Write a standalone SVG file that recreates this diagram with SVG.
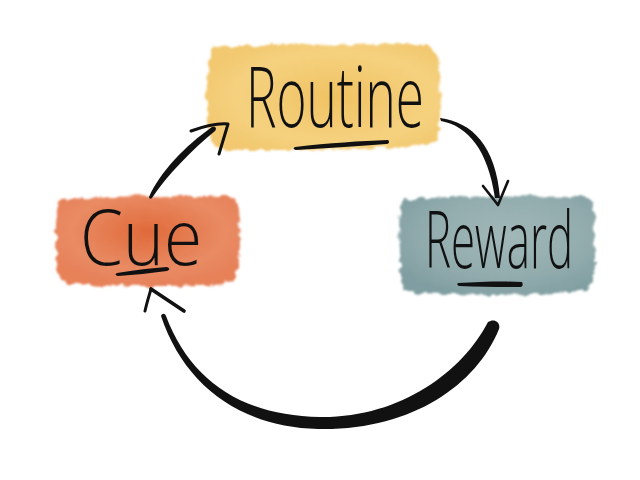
<svg xmlns="http://www.w3.org/2000/svg" width="640" height="480" viewBox="0 0 640 480">
<defs>
<filter id="rough" x="-10%" y="-15%" width="120%" height="130%">
<feTurbulence type="fractalNoise" baseFrequency="0.12" numOctaves="3" seed="4" result="n"/>
<feDisplacementMap in="SourceGraphic" in2="n" scale="7" xChannelSelector="R" yChannelSelector="G" result="d"/>
<feGaussianBlur in="d" stdDeviation="1"/>
</filter>
<radialGradient id="gY" cx="0.55" cy="0.5" r="0.6">
<stop offset="0" stop-color="#f1c262"/><stop offset="0.7" stop-color="#f5d17f"/><stop offset="1" stop-color="#f2c86f"/>
</radialGradient>
<radialGradient id="gO" cx="0.5" cy="0.4" r="0.6">
<stop offset="0" stop-color="#e06a3a"/><stop offset="0.7" stop-color="#e98b64"/><stop offset="1" stop-color="#e68159"/>
</radialGradient>
<radialGradient id="gB" cx="0.55" cy="0.4" r="0.65">
<stop offset="0" stop-color="#a2b8b9"/><stop offset="0.7" stop-color="#90aaac"/><stop offset="1" stop-color="#809ea1"/>
</radialGradient>
<style>
.lbl{font-family:"Open Sans","DejaVu Sans",sans-serif;font-weight:300;fill:#111}
.ln{fill:none;stroke:#111;stroke-linecap:round;stroke-linejoin:round}
.fl{fill:#111}
</style>
</defs>
<rect width="640" height="480" fill="#fff"/>
<g id="routine">
<path filter="url(#rough)" fill="url(#gY)" d="M212,48 C260,42 330,46 420,44 C436,46 440,60 440,80 C442,100 440,120 438,140 C420,150 340,150 230,150 C212,150 208,140 208,120 C206,100 206,70 212,48 Z"/>
<text class="lbl" x="246" y="127" font-size="84" textLength="178" lengthAdjust="spacingAndGlyphs">Routine</text>
<path class="fl" d="M295,147 C330,143 360,141 388,140 C390,142 389,144 386,144 C360,146 330,148 296,150 C293,149 293,148 295,147 Z"/>
</g>
<g id="cue">
<path filter="url(#rough)" fill="url(#gO)" d="M60,200 C100,196 180,195 230,196 C240,200 239,220 240,240 C240,260 238,275 232,282 C190,288 120,286 70,284 C58,282 56,270 56,250 C56,230 55,210 60,200 Z"/>
<text class="lbl" x="80" y="265" font-size="78" textLength="122" lengthAdjust="spacingAndGlyphs">Cue</text>
<path class="fl" d="M117,273 C135,270 152,268 167,267 C170,268 170,270 167,271 C150,273 135,275 118,276 C115,275 115,274 117,273 Z"/>
</g>
<g id="reward">
<path filter="url(#rough)" fill="url(#gB)" d="M404,200 C450,195 530,196 586,197 C596,200 594,220 594,240 C596,262 596,280 588,290 C540,296 460,296 410,292 C400,290 400,270 400,250 C399,230 398,210 404,200 Z"/>
<text class="lbl" transform="translate(425,268) scale(1,1.33)" x="0" y="0" font-size="60" textLength="148" lengthAdjust="spacingAndGlyphs">Reward</text>
<path class="fl" d="M458,283 C480,282 500,281 522,282 C523,284 523,286 521,287 C500,287 480,287 459,286 C457,285 457,284 458,283 Z"/>
</g>
<g id="connectors">
<path class="fl" d="M149,197 C160,172 185,146 212,127 C216,126 217,129 215,131 C192,150 168,174 152,198 C151,199 149,199 149,197 Z"/>
<path class="ln" stroke-width="3" d="M191,131 C205,126 218,123 228,124 L219,154"/>
<path class="fl" d="M440,118 C472,122 496,146 500,198 L495,198 C488,150 468,126 441,121 Z"/>
<path class="ln" stroke-width="2.6" d="M483,186 L498,205 L508,181"/>
<path class="fl" d="M488,322 C494,318 501,322 499,329 C476,386 410,431 318,429 C240,427 184,385 161,316 C162,313 165,313 166,316 C190,380 242,416 320,417 C400,418 462,372 488,322 Z"/>
<path class="ln" stroke-width="3" d="M145,311 C147,302 149,296 151,289"/>
<path class="ln" stroke-width="3.6" d="M151,289 L184,311"/>
</g>
</svg>
